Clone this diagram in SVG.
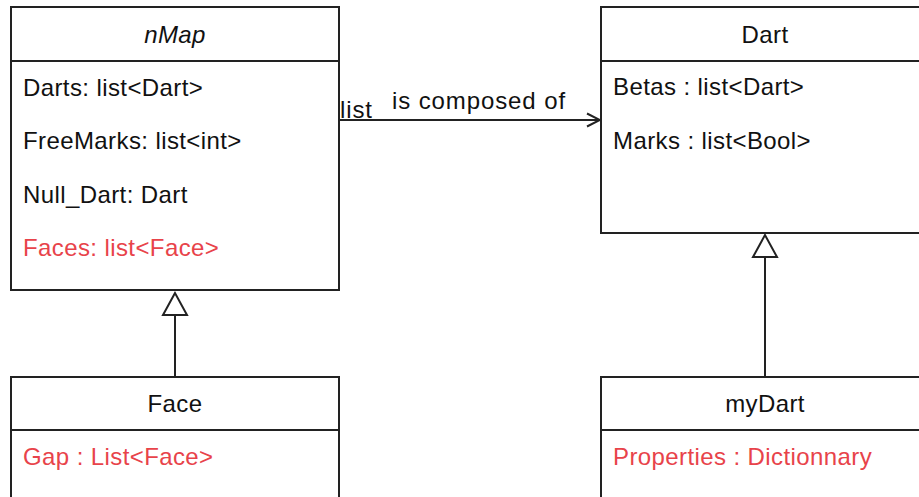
<svg xmlns="http://www.w3.org/2000/svg" width="919" height="497" viewBox="0 0 919 497">
  <style>
    .box { fill: #ffffff; stroke: #222222; stroke-width: 2; }
    .sep { stroke: #222222; stroke-width: 2; fill: none; }
    .edge { stroke: #222222; stroke-width: 2; fill: none; }
    text { font-family: "Liberation Sans", Arial, Helvetica, sans-serif; font-size: 24px; letter-spacing: 0.4px; fill: #111111; }
    .title { text-anchor: middle; }
    .italic { font-style: italic; }
    .new { fill: #e8434a; }
    .label { letter-spacing: 0.9px; }
  </style>
  <defs>
    <marker id="open" markerWidth="16" markerHeight="16" refX="15" refY="8" orient="auto" markerUnits="userSpaceOnUse">
      <path d="M2,1.5 L15,8 L2,14.5" fill="none" stroke="#222222" stroke-width="2"/>
    </marker>
  </defs>

  <rect width="919" height="497" fill="#ffffff"/>

  <g id="nMap">
    <rect class="box" x="11" y="7" width="328" height="283"/>
    <line class="sep" x1="11" y1="61" x2="339" y2="61"/>
    <text class="title italic" x="175" y="43">nMap</text>
    <text x="23" y="96">Darts: list&lt;Dart&gt;</text>
    <text x="23" y="149">FreeMarks: list&lt;int&gt;</text>
    <text x="23" y="203">Null_Dart: Dart</text>
    <text class="new" x="23" y="256">Faces: list&lt;Face&gt;</text>
  </g>

  <g id="Dart">
    <rect class="box" x="601" y="7" width="328" height="226"/>
    <line class="sep" x1="601" y1="61" x2="929" y2="61"/>
    <text class="title" x="765" y="43">Dart</text>
    <text x="613" y="95">Betas : list&lt;Dart&gt;</text>
    <text x="613" y="149">Marks : list&lt;Bool&gt;</text>
  </g>

  <g id="Face">
    <rect class="box" x="11" y="377" width="328" height="140"/>
    <line class="sep" x1="11" y1="430" x2="339" y2="430"/>
    <text class="title" x="175" y="412">Face</text>
    <text class="new" x="23" y="465">Gap : List&lt;Face&gt;</text>
  </g>

  <g id="myDart">
    <rect class="box" x="601" y="377" width="328" height="140"/>
    <line class="sep" x1="601" y1="430" x2="929" y2="430"/>
    <text class="title" x="765" y="412">myDart</text>
    <text class="new" x="613" y="465">Properties : Dictionnary</text>
  </g>

  <g id="connectors">
    <!-- association nMap -> Dart -->
    <line class="edge" x1="339" y1="120" x2="600" y2="120" marker-end="url(#open)"/>
    <text class="label" x="340" y="118">list</text>
    <text class="title label" x="479" y="109">is composed of</text>
    <!-- generalization Face -> nMap -->
    <line class="edge" x1="175" y1="377" x2="175" y2="315"/>
    <path class="edge" d="M175,293 L163,315 L187,315 Z" fill="#ffffff"/>
    <!-- generalization myDart -> Dart -->
    <line class="edge" x1="765" y1="377" x2="765" y2="257"/>
    <path class="edge" d="M765,235 L753,257 L777,257 Z" fill="#ffffff"/>
  </g>
</svg>
